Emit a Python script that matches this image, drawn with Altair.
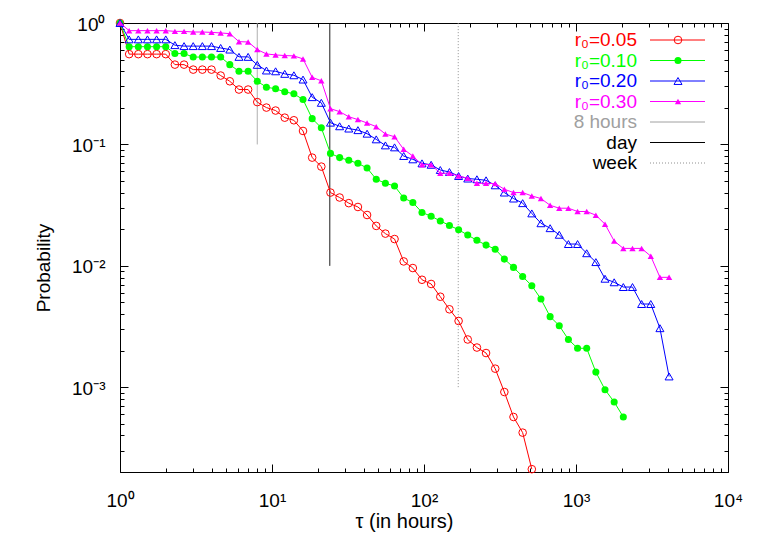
import altair as alt
import pandas as pd

# ---------------- data ----------------
tau = [1, 1.149, 1.32, 1.516, 1.741, 2, 2.297, 2.639, 3.031, 3.482,
       4, 4.595, 5.278, 6.063, 6.964, 8, 9.19, 10.56, 12.13, 13.93,
       16, 18.38, 21.11, 24.25, 27.86, 32, 36.76, 42.22, 48.5, 55.72,
       64, 73.52, 84.45, 97.01, 111.4, 128, 147, 168.9, 194, 222.9,
       256, 294.1, 337.8, 388, 445.7, 512, 588.1, 675.6, 776.1, 891.4,
       1024, 1176, 1351, 1552, 1783, 2048, 2353, 2702, 3104, 3566, 4096]

p005 = [1, 0.554, 0.554, 0.554, 0.554, 0.554, 0.454, 0.454, 0.413, 0.413,
        0.413, 0.369, 0.331, 0.283, 0.283, 0.223, 0.201, 0.190, 0.166, 0.158,
        0.129, 0.0778, 0.0656, 0.0401, 0.0365, 0.0328, 0.0305, 0.0262, 0.0213, 0.0184,
        0.0166, 0.01086, 0.00958, 0.00767, 0.00708, 0.00556, 0.00438, 0.00351, 0.00247, 0.00212,
        0.00191, 0.00142, 0.000912, 0.000568, 0.000422, 0.000211]

p010 = [1, 0.638, 0.638, 0.638, 0.638, 0.638, 0.560, 0.560, 0.524, 0.524,
        0.524, 0.524, 0.454, 0.400, 0.400, 0.331, 0.296, 0.287, 0.271, 0.261,
        0.234, 0.163, 0.137, 0.0843, 0.0778, 0.0739, 0.0698, 0.0639, 0.0516, 0.0478,
        0.0454, 0.0362, 0.0332, 0.0275, 0.0256, 0.0234, 0.0215, 0.0198, 0.0179, 0.0162,
        0.0148, 0.0137, 0.01135, 0.0097, 0.00815, 0.00685, 0.00532, 0.00381, 0.00321, 0.00247,
        0.00209, 0.00209, 0.00133, 0.000953, 0.000755, 0.000568]

p020 = [1, 0.733, 0.733, 0.733, 0.733, 0.733, 0.657, 0.645, 0.645, 0.645,
        0.645, 0.623, 0.604, 0.526, 0.526, 0.452, 0.406, 0.400, 0.381, 0.371,
        0.342, 0.245, 0.220, 0.151, 0.141, 0.135, 0.131, 0.1225, 0.110, 0.0981,
        0.0945, 0.0802, 0.0753, 0.0698, 0.0679, 0.0615, 0.0592, 0.0549, 0.0523, 0.0516,
        0.0506, 0.0460, 0.0401, 0.0358, 0.0328, 0.0270, 0.0224, 0.0204, 0.0180, 0.0151,
        0.0151, 0.01268, 0.01072, 0.00782, 0.00731, 0.00668, 0.00668, 0.00484, 0.00484, 0.00306,
        0.001225]

p030 = [1, 0.865, 0.865, 0.865, 0.865, 0.865, 0.853, 0.853, 0.843, 0.843,
        0.837, 0.828, 0.817, 0.702, 0.698, 0.604, 0.556, 0.546, 0.539, 0.536,
        0.506, 0.357, 0.334, 0.197, 0.186, 0.169, 0.160, 0.150, 0.140, 0.1216,
        0.1156, 0.0910, 0.0802, 0.0681, 0.0681, 0.0578, 0.0578, 0.0549, 0.0526, 0.0478,
        0.0478, 0.0475, 0.0427, 0.0401, 0.0401, 0.0376, 0.0358, 0.0315, 0.0298, 0.0298,
        0.0280, 0.0280, 0.0261, 0.0220, 0.0160, 0.0139, 0.0139, 0.0139, 0.0120, 0.00803,
        0.00803]

series_names = ['r₀=0.05', 'r₀=0.10', 'r₀=0.20', 'r₀=0.30']
series_values = [p005, p010, p020, p030]

ref_names = ['8 hours', 'day', 'week']
ref_tau = [8, 24, 168]
ref_low = [0.1, 0.01, 0.001]
ref_high = [1, 1, 1]

x_major = [1, 10, 100, 1000, 10000]
x_minor = [2, 3, 4, 5, 6, 7, 8, 9, 20, 30, 40, 50, 60, 70, 80, 90,
           200, 300, 400, 500, 600, 700, 800, 900,
           2000, 3000, 4000, 5000, 6000, 7000, 8000, 9000]
y_major = [0.001, 0.01, 0.1, 1]
y_minor = [0.0002, 0.0003, 0.0004, 0.0005, 0.0006, 0.0007, 0.0008, 0.0009,
           0.002, 0.003, 0.004, 0.005, 0.006, 0.007, 0.008, 0.009,
           0.02, 0.03, 0.04, 0.05, 0.06, 0.07, 0.08, 0.09,
           0.2, 0.3, 0.4, 0.5, 0.6, 0.7, 0.8, 0.9]

# ---------------- styles ----------------
series_colors = ['#ff0000', '#00ff00', '#0000ff', '#ff00ff']
series_shapes = ['circle', 'circle', 'triangle-up', 'triangle-up']
series_filled = [False, True, False, True]
series_sizes = [58, 50, 64, 40]
ref_colors = ['#a0a0a0', '#000000', '#909090']
ref_dash = [[1, 0], [1, 0], [1, 2]]
leg_names = series_names + ref_names
leg_text_colors = series_colors + ['#a0a0a0', '#000000', '#000000']
leg_line_colors = series_colors + ref_colors

FONT = 'Liberation Sans'
FS = 19
W, H = 608, 449

rows = []
for name, vals in zip(series_names, series_values):
    for i, v in enumerate(vals):
        rows.append({'series': name, 'tau': tau[i], 'p': v, 'k': i})
df = pd.DataFrame(rows)

refdf = pd.DataFrame({'name': ref_names, 'tau': ref_tau, 'lo': ref_low,
                      'hi': ref_high, 'col': ref_colors})
leg = pd.DataFrame({'name': leg_names, 'idx': list(range(len(leg_names))),
                    'tcol': leg_text_colors, 'lcol': leg_line_colors})

xs = alt.Scale(type='log', domain=[1, 10000], nice=False)
ys = alt.Scale(type='log', domain=[0.0002, 1], nice=False)


def sup_label():
    e = "'' + round(log(datum.value) / LN10)"
    for a, b in [('-', '⁻'), ('0', '⁰'), ('1', '¹'), ('2', '²'), ('3', '³'), ('4', '⁴')]:
        e = f"replace({e}, '{a}', '{b}')"
    return "'10' + " + e


LBL = sup_label()

# axes
ax_x_lab = alt.Axis(orient='bottom', values=x_major, labelExpr=LBL, ticks=False, tickSize=0,
                    domain=False, grid=False, labelFont=FONT, labelFontSize=FS,
                    labelColor='black', labelPadding=34, labelBaseline='alphabetic',
                    labelFlush=False, labelOverlap=False, labelBound=False,
                    title='τ (in hours)', titleFont=FONT, titleFontSize=20,
                    titleFontWeight='normal', titleColor='black', titleX=284, titleY=55,
                    titleBaseline='alphabetic', titleAlign='center')
ax_y_lab = alt.Axis(orient='left', values=y_major, labelExpr=LBL, ticks=False, tickSize=0,
                    domain=False, grid=False, labelFont=FONT, labelFontSize=FS,
                    labelColor='black', labelPadding=15, labelBaseline='alphabetic',
                    labelOffset=7, labelAlign='right',
                    labelFlush=False, labelOverlap=False, labelBound=False,
                    title='Probability', titleFont=FONT, titleFontSize=FS,
                    titleFontWeight='normal', titleColor='black', titleX=-71, titleY=H / 2 + 20,
                    titleAngle=270, titleBaseline='alphabetic', titleAlign='center')


def tick_axis(orient, values, size):
    return alt.Axis(orient=orient, values=values, labels=False, ticks=True,
                    tickSize={'expr': str(-size)}, tickColor='black', tickWidth=1,
                    domain=False, grid=False, title=None)


def carrier(xaxis, yaxis):
    return alt.Chart(df).mark_point(opacity=0, size=1).encode(
        x=alt.X('tau:Q', scale=xs, axis=xaxis),
        y=alt.Y('p:Q', scale=ys, axis=yaxis))


layers = []

# reference vertical lines
layers.append(alt.Chart(refdf).mark_rule(strokeWidth=1).encode(
    x=alt.X('tau:Q', scale=xs, axis=None),
    y=alt.Y('lo:Q', scale=ys, axis=None),
    y2='hi:Q',
    color=alt.Color('col:N', scale=None),
    strokeDash=alt.StrokeDash('name:N', scale=alt.Scale(domain=ref_names, range=ref_dash),
                              legend=None)))


def point_mark(i):
    return dict(shape=series_shapes[i], filled=series_filled[i], size=series_sizes[i],
                color=series_colors[i], strokeWidth=1, opacity=1)


for i, name in enumerate(series_names):
    sub = alt.Chart(df).transform_filter(alt.datum.series == name)
    layers.append(sub.mark_line(strokeWidth=1, color=series_colors[i]).encode(
        x=alt.X('tau:Q', scale=xs, axis=None),
        y=alt.Y('p:Q', scale=ys, axis=None),
        order='k:Q'))
    layers.append(sub.mark_point(**point_mark(i)).encode(
        x=alt.X('tau:Q', scale=xs, axis=None),
        y=alt.Y('p:Q', scale=ys, axis=None)))

# legend (key) drawn inside the plot, gnuplot style
legbase = alt.Chart(leg).transform_calculate(ly='17 + 20.5 * datum.idx')
layers.append(legbase.mark_text(align='right', baseline='middle', font=FONT,
                                fontSize=FS).encode(
    x=alt.value(517), y=alt.Y('ly:Q', scale=None, axis=None),
    text='name:N', color=alt.Color('tcol:N', scale=None)))
layers.append(legbase.transform_filter('datum.idx < 6').mark_rule(strokeWidth=1).encode(
    x=alt.value(530), x2=alt.value(585), y=alt.Y('ly:Q', scale=None, axis=None),
    color=alt.Color('lcol:N', scale=None)))
layers.append(legbase.transform_filter('datum.idx == 6').mark_rule(
    strokeWidth=1, strokeDash=[1, 2]).encode(
    x=alt.value(530), x2=alt.value(585), y=alt.Y('ly:Q', scale=None, axis=None),
    color=alt.Color('lcol:N', scale=None)))
for i in range(len(series_names)):
    layers.append(legbase.transform_filter(f'datum.idx == {i}').mark_point(
        **point_mark(i)).encode(x=alt.value(558), y=alt.Y('ly:Q', scale=None, axis=None)))

# axis carriers: labels, and inward ticks on all four sides
layers.append(carrier(ax_x_lab, ax_y_lab))
layers.append(carrier(tick_axis('bottom', x_major, 8), tick_axis('left', y_major, 8)))
layers.append(carrier(tick_axis('bottom', x_minor, 4), tick_axis('left', y_minor, 4)))
layers.append(carrier(tick_axis('top', x_major, 8), tick_axis('right', y_major, 8)))
layers.append(carrier(tick_axis('top', x_minor, 4), tick_axis('right', y_minor, 4)))

chart = alt.layer(*layers).resolve_axis(x='independent', y='independent').properties(
    width=W, height=H,
    padding={'left': 112, 'top': 15, 'right': 28, 'bottom': 60},
    autosize=alt.AutoSizeParams(type='none'),
    background='white'
).configure_view(stroke='black', strokeWidth=1)

chart.save("out.html", embed_options={"renderer": "svg", "actions": False})
